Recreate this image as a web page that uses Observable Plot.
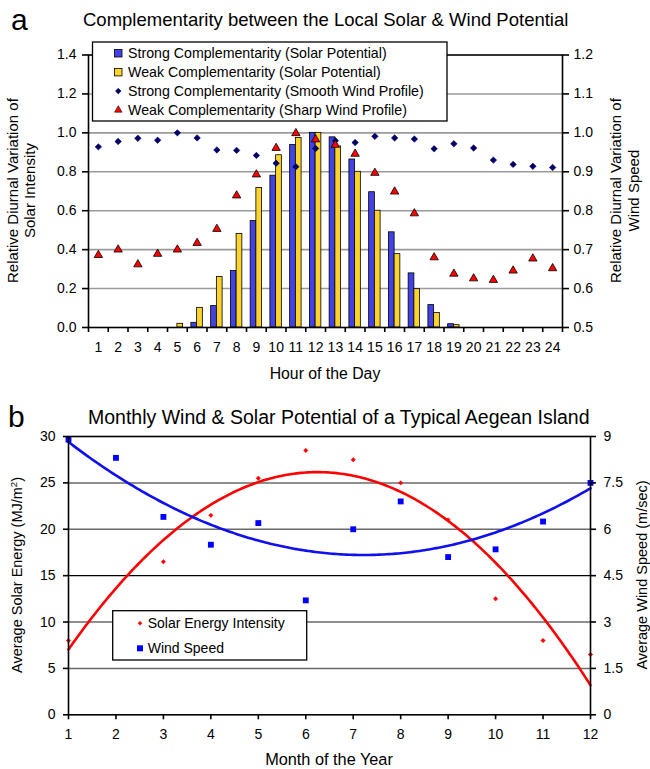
<!DOCTYPE html>
<html>
<head>
<meta charset="utf-8">
<script src="https://cdn.jsdelivr.net/npm/d3@7"></script>
<script src="https://cdn.jsdelivr.net/npm/@observablehq/plot@0.6"></script>
<style>
  html, body { margin: 0; padding: 0; background: #fff; }
  #wrap { position: relative; width: 650px; height: 769px; overflow: hidden; font-family: "Liberation Sans", Arial, sans-serif; }
  #wrap > svg, #wrap > figure { position: absolute; left: 0; margin: 0; }
  #overlay { position: absolute; left: 0; top: 0; pointer-events: none; }
</style>
</head>
<body>
<div id="wrap"></div>
<script>
// ---------------- Data: chart (a) ----------------
const hours = d3.range(1, 25);
const strongSolar = [0, 0, 0, 0, 0, 0.024, 0.11, 0.29, 0.547, 0.78, 0.938, 1.0, 0.977, 0.863, 0.695, 0.489, 0.278, 0.115, 0.017, 0, 0, 0, 0, 0];
const weakSolar   = [0, 0, 0, 0, 0.019, 0.101, 0.259, 0.48, 0.717, 0.885, 0.974, 1.0, 0.93, 0.80, 0.60, 0.377, 0.197, 0.074, 0.012, 0, 0, 0, 0, 0];
const strongWind  = [0.964, 0.978, 0.986, 0.981, 1.0, 0.987, 0.956, 0.955, 0.942, 0.922, 0.913, 0.96, 0.98, 0.975, 0.991, 0.987, 0.984, 0.959, 0.972, 0.961, 0.93, 0.919, 0.914, 0.911];
const weakWind    = [0.686, 0.70, 0.662, 0.689, 0.70, 0.717, 0.753, 0.839, 0.893, 0.961, 0.999, 0.983, 0.969, 0.946, 0.897, 0.849, 0.793, 0.68, 0.638, 0.626, 0.622, 0.646, 0.677, 0.652];
const leftTicksA  = [0, 0.2, 0.4, 0.6, 0.8, 1.0, 1.2, 1.4];
const rightTicksA = [0.5, 0.6, 0.7, 0.8, 0.9, 1.0, 1.1, 1.2];

// ---------------- Data: chart (b) ----------------
const months = d3.range(1, 13);
const solarEnergy = [8.0, null, 16.5, 21.5, 25.5, 28.5, 27.5, 25.0, 21.0, 12.5, 8.0, 6.5];
const windSpeed   = [8.9, 8.31, 6.4, 5.5, 6.2, 3.7, 6.0, 6.9, 5.1, 5.35, 6.25, 7.5];
const leftTicksB  = [0, 5, 10, 15, 20, 25, 30];
const rightTicksB = [0, 1.5, 3, 4.5, 6, 7.5, 9];

const FONT = '"Liberation Sans", Arial, sans-serif';
const BLUE = "#4242e6", YELLOW = "#fcd22c", NAVY = "#000066", RED = "#ff0000";

// ---------- chart (a) ----------
const rowsA = hours.map((h, i) => ({h, s: strongSolar[i], w: weakSolar[i], sw: strongWind[i], ww: weakWind[i]}));
const rightToLeftA = v => (v - 0.5) * 2;   // right axis 0.5–1.2 shares pixels with left 0–1.4
const barW = 0.29;

const chartA = Plot.plot({
  width: 650, height: 390,
  marginTop: 54.5, marginBottom: 63, marginLeft: 88, marginRight: 88,
  style: {fontFamily: FONT, fontSize: "14px", color: "black", background: "transparent"},
  x: {domain: [0.5, 24.5]},
  y: {domain: [0, 1.4]},
  marks: [
    Plot.ruleY(leftTicksA.slice(1, -1), {stroke: "#9a9a9a", strokeWidth: 1.6}),
    Plot.rectY(rowsA.filter(d => d.s > 0), {x1: d => d.h - barW, x2: d => d.h, y: "s", fill: BLUE, stroke: "black", strokeWidth: 0.8}),
    Plot.rectY(rowsA.filter(d => d.w > 0), {x1: d => d.h, x2: d => d.h + barW, y: "w", fill: YELLOW, stroke: "black", strokeWidth: 0.8}),
    Plot.dot(rowsA, {x: "h", y: d => rightToLeftA(d.sw), symbol: "diamond2", r: 2.9, fill: NAVY, stroke: NAVY, strokeWidth: 0.6}),
    Plot.dot(rowsA, {x: "h", y: d => rightToLeftA(d.ww), symbol: "triangle", r: 3.1, fill: RED, stroke: "black", strokeWidth: 0.8}),
    Plot.frame({stroke: "black", strokeWidth: 1.6}),
    Plot.axisY({anchor: "left", ticks: leftTicksA, tickFormat: d3.format(".1f"), tickSize: 6, tickPadding: 6, label: null, strokeWidth: 1.6}),
    Plot.axisY({anchor: "right", ticks: rightTicksA.map(rightToLeftA), tickFormat: v => (0.5 + v / 2).toFixed(1), tickSize: 6, tickPadding: 5, label: null, strokeWidth: 1.6}),
    Plot.axisX({anchor: "bottom", ticks: d3.range(0.5, 25, 1), tickFormat: () => "", tickSize: 5, label: null, strokeWidth: 1.6}),
    Plot.axisX({anchor: "bottom", ticks: hours, tickFormat: d => String(d), tickSize: 0, tickPadding: 15, label: null})
  ]
});
chartA.style.top = "0px";

// ---------- chart (b) ----------
function quadFit(xs, ys) {
  const pts = xs.map((x, i) => [x, ys[i]]).filter(p => p[1] != null);
  let S = Array.from({length: 5}, () => 0), T = [0, 0, 0];
  for (const [x, y] of pts) {
    for (let k = 0; k < 5; k++) S[k] += x ** k;
    for (let k = 0; k < 3; k++) T[k] += y * x ** k;
  }
  const M = [[S[0], S[1], S[2], T[0]], [S[1], S[2], S[3], T[1]], [S[2], S[3], S[4], T[2]]];
  for (let c = 0; c < 3; c++) {
    for (let r = c + 1; r < 3; r++) {
      const f = M[r][c] / M[c][c];
      for (let k = c; k < 4; k++) M[r][k] -= f * M[c][k];
    }
  }
  const b = [0, 0, 0];
  for (let r = 2; r >= 0; r--) {
    let s = M[r][3];
    for (let k = r + 1; k < 3; k++) s -= M[r][k] * b[k];
    b[r] = s / M[r][r];
  }
  return x => b[0] + b[1] * x + b[2] * x * x;
}
const windToLeft = v => v * 30 / 9;
const solarFit = quadFit(months, solarEnergy);
const windFit = quadFit(months, windSpeed);
const xs = d3.range(1, 12.0001, 0.05);

const rowsB = months.map((m, i) => ({m, s: solarEnergy[i], w: windSpeed[i]}));

const chartB = Plot.plot({
  width: 650, height: 379,
  marginTop: 46, marginBottom: 54.7, marginLeft: 68, marginRight: 60,
  style: {fontFamily: FONT, fontSize: "14px", color: "black", background: "transparent"},
  x: {domain: [1, 12]},
  y: {domain: [0, 30]},
  marks: [
    Plot.ruleY(leftTicksB.slice(1, -1), {stroke: d => d === 15 ? "black" : "#6a6a6a", strokeWidth: d => d === 15 ? 1.2 : 1.5}),
    Plot.line(xs, {x: d => d, y: d => solarFit(d), stroke: RED, strokeWidth: 2.6}),
    Plot.line(xs, {x: d => d, y: d => windToLeft(windFit(d)), stroke: "#1010ee", strokeWidth: 2.6}),
    Plot.dot(rowsB.filter(d => d.s != null), {x: "m", y: "s", symbol: "diamond2", r: 2.0, fill: RED, stroke: RED, strokeWidth: 0.5}),
    Plot.dot(rowsB, {x: "m", y: d => windToLeft(d.w), symbol: "square", r: 3.3, fill: "#0000ff"}),
    Plot.frame({stroke: "black", strokeWidth: 1.6}),
    Plot.axisY({anchor: "left", ticks: leftTicksB, tickFormat: d => String(d), tickSize: 5, tickPadding: 8, label: null, strokeWidth: 1.6}),
    Plot.axisY({anchor: "right", ticks: rightTicksB.map(windToLeft), tickFormat: v => String(Math.round(v * 9 / 30 * 10) / 10), tickSize: 5, tickPadding: 8, label: null, strokeWidth: 1.6}),
    Plot.axisX({anchor: "bottom", ticks: months, tickFormat: d => String(d), tickSize: 5, tickPadding: 9, label: null, strokeWidth: 1.6})
  ]
});
chartB.style.top = "390px";

const wrap = document.getElementById("wrap");
wrap.appendChild(chartA);
wrap.appendChild(chartB);

// ---------- overlay texts & legends ----------
const ov = d3.select(wrap).append("svg").attr("id", "overlay").attr("width", 650).attr("height", 769)
  .style("font-family", FONT);

function txt(x, y, s, size, anchor = "start", rot = 0) {
  const t = ov.append("text").attr("x", x).attr("y", y).attr("font-size", size).attr("text-anchor", anchor).attr("fill", "black").text(s);
  if (rot) t.attr("transform", `rotate(${rot},${x},${y})`);
  return t;
}

// Chart (a) texts
txt(11, 30, "a", 30);
txt(83, 26, "Complementarity between the Local Solar & Wind Potential", 18.5);
txt(18.5, 190.6, "Relative Diurnal Variation of", 15, "middle", -90);
txt(35.5, 190.6, "Solar Intensity", 15, "middle", -90);
txt(621, 190.6, "Relative Diurnal Variation of", 15, "middle", -90);
txt(639, 190.6, "Wind Speed", 15, "middle", -90);
txt(325, 378.5, "Hour of the Day", 15.8, "middle");

// Legend (a)
const legA = [
  {label: "Strong Complementarity (Solar Potential)", kind: "rect", fill: BLUE},
  {label: "Weak Complementarity (Solar Potential)", kind: "rect", fill: YELLOW},
  {label: "Strong Complementarity (Smooth Wind Profile)", kind: "diamond", fill: NAVY},
  {label: "Weak Complementarity (Sharp Wind Profile)", kind: "triangle", fill: RED}
];
ov.append("rect").attr("x", 92.5).attr("y", 42).attr("width", 354.5).attr("height", 79).attr("fill", "white").attr("stroke", "black").attr("stroke-width", 1.3);
legA.forEach((d, i) => {
  const cy = 53.3 + i * 18.9;
  if (d.kind === "rect") {
    ov.append("rect").attr("x", 114.5).attr("y", cy - 3.8).attr("width", 7.5).attr("height", 7.5).attr("fill", d.fill).attr("stroke", "black").attr("stroke-width", 0.8);
  } else {
    const sym = d.kind === "diamond" ? d3.symbolDiamond2 : d3.symbolTriangle;
    const size = d.kind === "diamond" ? 20 : 24;
    ov.append("path").attr("d", d3.symbol(sym, size)()).attr("transform", `translate(118.3,${cy})`)
      .attr("fill", d.fill).attr("stroke", d.kind === "diamond" ? NAVY : "black").attr("stroke-width", 0.6);
  }
  txt(128, cy + 5, d.label, 14.2);
});

// Chart (b) texts
txt(8, 427, "b", 30);
txt(88, 424, "Monthly Wind & Solar Potential of a Typical Aegean Island", 19.5);
const yl = txt(21.7, 575, "Average Solar Energy (MJ/m", 14.5, "middle", -90);
yl.append("tspan").attr("font-size", 9.5).attr("dy", -5).text("2");
yl.append("tspan").attr("dy", 5).text(")");
txt(646.5, 575, "Average Wind Speed (m/sec)", 14.5, "middle", -90);
txt(329, 765.4, "Month of the Year", 16.3, "middle");

// Legend (b)
ov.append("rect").attr("x", 112.7).attr("y", 610.7).attr("width", 194).attr("height", 49.3).attr("fill", "white").attr("stroke", "black").attr("stroke-width", 1.3);
ov.append("path").attr("d", d3.symbol(d3.symbolDiamond2, 10)()).attr("transform", "translate(140,623.3)").attr("fill", RED).attr("stroke", RED).attr("stroke-width", 0.5);
txt(147.7, 628.3, "Solar Energy Intensity", 14);
ov.append("rect").attr("x", 137).attr("y", 645.3).attr("width", 6).attr("height", 6).attr("fill", "#0000ff");
txt(147.7, 653.3, "Wind Speed", 14);
</script>
</body>
</html>
